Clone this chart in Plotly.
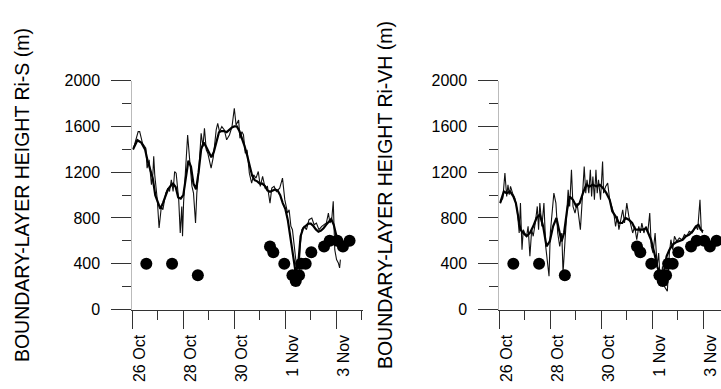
import pandas as pd
import plotly.graph_objects as go

# ---------------- data (time as decimal day of October; 32 = 1 Nov) ----------------
ris_thin_day = [26.03, 26.23, 26.29, 26.40, 26.53, 26.58, 26.66, 26.75, 26.81, 26.84, 26.88, 26.98, 27.05,
                27.14, 27.20, 27.31, 27.40, 27.46, 27.53, 27.60, 27.66, 27.72, 27.82, 27.88, 27.94, 27.97,
                28.01, 28.09, 28.17, 28.25, 28.34, 28.40, 28.48, 28.53, 28.61, 28.70, 28.77, 28.83, 28.90,
                28.96, 29.09, 29.18, 29.29, 29.35, 29.42, 29.51, 29.61, 29.70, 29.81, 29.91, 30.00, 30.07,
                30.17, 30.22, 30.30, 30.36, 30.43, 30.50, 30.59, 30.68, 30.76, 30.85, 30.94, 31.02, 31.11,
                31.21, 31.30, 31.40, 31.47, 31.56, 31.65, 31.78, 31.89, 31.98, 32.09, 32.15, 32.22, 32.28,
                32.36, 32.44, 32.52, 32.58, 32.65, 32.74, 32.83, 32.93, 33.04, 33.13, 33.22, 33.32, 33.43,
                33.52, 33.61, 33.69, 33.75, 33.82, 33.88, 33.94, 34.01, 34.08, 34.13, 34.16]
ris_thin_h = [1395, 1555, 1555, 1453, 1410, 1235, 1308, 1090, 1192, 1340, 1177, 960, 712,
              901, 872, 1017, 1061, 1032, 1134, 1032, 1206, 1192, 960, 669, 901, 640,
              930, 1221, 1526, 1308, 1076, 1017, 756, 1017, 1221, 1541, 1424, 1584, 1395,
              1366, 1235, 1337, 1570, 1628, 1555, 1599, 1570, 1483, 1526, 1599, 1759, 1613,
              1657, 1497, 1555, 1526, 1366, 1395, 1192, 1105, 1177, 1148, 1206, 1076, 1163,
              1061, 1076, 930, 1061, 1076, 1032, 1061, 1148, 960, 843, 872, 727, 698,
              552, 378, 203, 552, 698, 727, 698, 785, 800, 741, 756, 698, 727,
              741, 756, 843, 756, 785, 945, 523, 436, 407, 363, 436]

ris_thick_day = [26.03, 26.20, 26.35, 26.50, 26.60, 26.70, 26.80, 26.90, 27.00, 27.10, 27.20, 27.30, 27.40,
                 27.50, 27.60, 27.70, 27.80, 27.90, 28.00, 28.10, 28.20, 28.30, 28.40, 28.50, 28.60, 28.70,
                 28.80, 28.90, 29.00, 29.10, 29.20, 29.30, 29.40, 29.50, 29.60, 29.70, 29.80, 29.90, 30.00,
                 30.10, 30.20, 30.30, 30.40, 30.50, 30.60, 30.70, 30.80, 30.90, 31.00, 31.10, 31.20, 31.30,
                 31.40, 31.50, 31.60, 31.70, 31.80, 31.90, 32.00, 32.10, 32.20, 32.30, 32.40, 32.50, 32.60,
                 32.70, 32.80, 32.90, 33.00, 33.10, 33.20, 33.30, 33.40, 33.50, 33.60, 33.70, 33.80, 33.90,
                 34.00, 34.05]
ris_thick_h = [1400, 1480, 1460, 1400, 1300, 1230, 1150, 1000, 930, 880, 930, 1000, 1050,
               1080, 1100, 1070, 980, 970, 1000, 1150, 1300, 1250, 1100, 1050, 1200, 1400,
               1460, 1420, 1380, 1330, 1380, 1480, 1550, 1560, 1560, 1550, 1570, 1590, 1600,
               1600, 1560, 1500, 1430, 1350, 1250, 1170, 1130, 1120, 1100, 1100, 1080, 1040,
               1030, 1040, 1050, 1040, 1000, 930, 880, 780, 620, 470, 330, 380, 640,
               710, 730, 750, 750, 730, 700, 680, 690, 710, 740, 770, 790, 740,
               650, 600]

rivh_thin_day = [26.03, 26.14, 26.22, 26.29, 26.34, 26.39, 26.44, 26.52, 26.61, 26.70, 26.78, 26.83, 26.89,
                 26.94, 27.00, 27.07, 27.13, 27.20, 27.27, 27.33, 27.41, 27.49, 27.54, 27.59, 27.67, 27.75,
                 27.82, 27.90, 27.95, 28.00, 28.07, 28.14, 28.22, 28.29, 28.37, 28.45, 28.50, 28.57, 28.63,
                 28.70, 28.76, 28.83, 28.89, 28.97, 29.05, 29.13, 29.18, 29.26, 29.33, 29.39, 29.44, 29.51,
                 29.57, 29.62, 29.67, 29.73, 29.79, 29.84, 29.89, 29.97, 30.05, 30.09, 30.17, 30.25, 30.33,
                 30.41, 30.49, 30.56, 30.63, 30.69, 30.77, 30.84, 30.91, 31.00, 31.08, 31.16, 31.23, 31.31,
                 31.39, 31.47, 31.53, 31.59, 31.67, 31.75, 31.82, 31.90, 31.96, 32.03, 32.11, 32.19, 32.25,
                 32.32, 32.40, 32.47, 32.54, 32.59, 32.67, 32.73, 32.80, 32.87, 32.96, 33.06, 33.17, 33.26,
                 33.35, 33.45, 33.56, 33.65, 33.71, 33.78, 33.87, 33.92, 33.97]
rivh_thin_h = [930, 974, 1192, 988, 1090, 1003, 1076, 1017, 974, 872, 669, 930, 523,
               698, 669, 640, 727, 465, 698, 640, 756, 901, 698, 930, 727, 930,
               552, 407, 291, 669, 814, 1017, 930, 669, 552, 669, 320, 552, 785,
               1047, 901, 1221, 901, 843, 930, 814, 698, 988, 1250, 1017, 1134, 1017,
               1221, 988, 1163, 959, 1221, 1017, 1134, 959, 1294, 1017, 1076, 1105, 959,
               901, 843, 727, 814, 698, 785, 872, 756, 930, 814, 741, 669, 727,
               610, 727, 669, 756, 669, 727, 669, 843, 552, 494, 669, 378, 494,
               203, 378, 203, 174, 160, 494, 610, 523, 640, 596, 625, 610, 654,
               640, 683, 669, 712, 727, 698, 959, 698, 669]

rivh_thick_day = [26.03, 26.18, 26.29, 26.42, 26.55, 26.65, 26.74, 26.83, 26.94, 27.07, 27.20, 27.33, 27.46,
                  27.59, 27.72, 27.85, 27.98, 28.11, 28.24, 28.35, 28.44, 28.54, 28.66, 28.76, 28.89, 29.02,
                  29.15, 29.28, 29.41, 29.54, 29.67, 29.80, 29.94, 30.07, 30.20, 30.33, 30.43, 30.56, 30.69,
                  30.82, 30.95, 31.08, 31.21, 31.34, 31.47, 31.63, 31.76, 31.86, 31.95, 32.08, 32.19, 32.28,
                  32.38, 32.47, 32.56, 32.67, 32.80, 32.93, 33.06, 33.19, 33.32, 33.45, 33.58, 33.71, 33.81,
                  33.90, 33.99]
rivh_thick_h = [930, 1032, 1017, 1032, 988, 930, 814, 698, 669, 640, 669, 727, 800,
                829, 727, 552, 596, 727, 800, 698, 596, 669, 872, 988, 959, 901,
                930, 1017, 1090, 1076, 1090, 1076, 1090, 1061, 1017, 959, 858, 814, 756,
                756, 800, 785, 756, 698, 698, 698, 712, 654, 610, 494, 378, 320,
                291, 349, 465, 523, 567, 587, 596, 610, 640, 654, 683, 727, 741,
                698, 683]

sonde_day = [26.55, 27.56, 28.57, 31.40, 31.53, 31.96, 32.28, 32.41, 32.54, 32.62, 32.80, 33.02,
             33.52, 33.74, 34.04, 34.26, 34.52]
sonde_h = [400, 400, 300, 550, 500, 400, 300, 250, 300, 400, 400, 500,
           550, 600, 600, 550, 600]

x_tick_days = [26, 28, 30, 32, 34]
x_tick_text = ["26 Oct", "28 Oct", "30 Oct", "1 Nov", "3 Nov"]
y_titles = ["BOUNDARY-LAYER HEIGHT Ri-S (m)", "BOUNDARY-LAYER HEIGHT Ri-VH (m)"]

# ---------------- helpers ----------------
BASE = pd.Timestamp("2004-10-26")


def to_time(days):
    return [BASE + pd.Timedelta(days=d - 26) for d in days]


W, H = 721, 389
FONT = "Liberation Sans, Arial, Helvetica, sans-serif"
LINE_C = "#333333"
DAY_MS = 86400000

# panel geometry (pixels)
L_X0, L_X1 = 132.3, 363.3
R_X0 = 499.3
PX_PER_DAY = 25.5
Y_TOP, Y_BOT = 80.7, 309.5

ydom = [1 - Y_BOT / H, 1 - Y_TOP / H]
left_dom = [L_X0 / W, L_X1 / W]
right_dom = [R_X0 / W, 1.0]
left_range = [BASE, BASE + pd.Timedelta(days=(L_X1 - L_X0) / PX_PER_DAY)]
right_range = [BASE, BASE + pd.Timedelta(days=(W - R_X0) / PX_PER_DAY)]

fig = go.Figure()

panels = [
    dict(xa="x", ya="y", thin=(ris_thin_day, ris_thin_h), thick=(ris_thick_day, ris_thick_h)),
    dict(xa="x2", ya="y2", thin=(rivh_thin_day, rivh_thin_h), thick=(rivh_thick_day, rivh_thick_h)),
]
for p in panels:
    fig.add_trace(go.Scatter(x=to_time(p["thin"][0]), y=p["thin"][1], mode="lines",
                             line=dict(color="#111111", width=1.1), xaxis=p["xa"], yaxis=p["ya"],
                             showlegend=False, hoverinfo="skip"))
    fig.add_trace(go.Scatter(x=to_time(p["thick"][0]), y=p["thick"][1], mode="lines",
                             line=dict(color="#000000", width=2.2), xaxis=p["xa"], yaxis=p["ya"],
                             showlegend=False, hoverinfo="skip"))
    fig.add_trace(go.Scatter(x=to_time(sonde_day), y=sonde_h, mode="markers",
                             marker=dict(color="#000000", size=12, line=dict(width=0)),
                             xaxis=p["xa"], yaxis=p["ya"], showlegend=False, hoverinfo="skip"))

tick_font = dict(family=FONT, size=16, color="#000000")

common_x = dict(type="date", showgrid=False, zeroline=False, tickcolor=LINE_C, tickwidth=1,
                ticklen=18, showline=True, linecolor=LINE_C, linewidth=1,
                tickvals=to_time(x_tick_days), ticktext=x_tick_text,
                minor=dict(ticks="", ticklen=9, dtick=DAY_MS, tick0=BASE, tickcolor=LINE_C, showgrid=False),
                showticklabels=False, fixedrange=True)
common_y = dict(range=[0, 2000], showgrid=False, zeroline=False, tickcolor=LINE_C, tickwidth=1,
                dtick=400, tick0=0, showline=False, fixedrange=True,
                minor=dict(ticklen=9, dtick=200, tick0=0, tickcolor=LINE_C, showgrid=False))

layout = dict(
    width=W, height=H, margin=dict(l=0, r=0, t=0, b=0, pad=0, autoexpand=False),
    paper_bgcolor="white", plot_bgcolor="white", showlegend=False,
    font=dict(family=FONT, color="#000000"),
)

xlabels = dict(showticklabels=True, tickangle=-90, tickfont=tick_font, ticklabelshift=8,
               ticklabelstandoff=0)

# left panel axes
layout["xaxis"] = dict(common_x, **xlabels, domain=left_dom, range=left_range, anchor="y", side="bottom",
                       ticks="outside", minor=dict(common_x["minor"], ticks="outside"))
layout["xaxis3"] = dict(common_x, range=left_range, anchor="y", overlaying="x", side="top", ticks="inside",
                        minor=dict(common_x["minor"], ticks="inside"))
layout["yaxis"] = dict(common_y, domain=ydom, anchor="x", side="left", ticks="outside", ticklen=20,
                       tickfont=tick_font, ticklabelstandoff=8, showline=True, linecolor="#bbbbbb",
                       minor=dict(common_y["minor"], ticks="outside"))
layout["yaxis3"] = dict(common_y, anchor="x", overlaying="y", side="right", ticks="inside", ticklen=20,
                        showticklabels=False, showline=True, linecolor="#777777",
                        minor=dict(common_y["minor"], ticks="inside", ticklen=11))

# right panel axes (panel is cut off by the right edge of the picture)
layout["xaxis2"] = dict(common_x, **xlabels, domain=right_dom, range=right_range, anchor="y2", side="bottom",
                        ticks="outside", minor=dict(common_x["minor"], ticks="outside"))
layout["xaxis4"] = dict(common_x, range=right_range, anchor="y2", overlaying="x2", side="top", ticks="inside",
                        minor=dict(common_x["minor"], ticks="inside"))
layout["yaxis2"] = dict(common_y, domain=ydom, anchor="x2", side="left", ticks="outside", ticklen=20,
                        tickfont=tick_font, ticklabelstandoff=8, showline=True, linecolor="#bbbbbb",
                        minor=dict(common_y["minor"], ticks="outside"))
layout["yaxis4"] = dict(common_y, anchor="free", position=1.0, overlaying="y2", side="right", ticks="inside",
                        ticklen=11, showticklabels=False, showline=False,
                        minor=dict(common_y["minor"], ticks="inside", ticklen=2))

fig.update_layout(**layout)

# rotated axis titles
for xpix, txt in [(22, y_titles[0]), (385, y_titles[1])]:
    fig.add_annotation(text=txt, x=xpix / W, y=1 - (Y_TOP + Y_BOT) / 2 / H, xref="paper", yref="paper",
                       textangle=-90, showarrow=False, xanchor="center", yanchor="middle",
                       font=dict(family=FONT, size=19.5, color="#000000"))

fig.write_html("out.html")
